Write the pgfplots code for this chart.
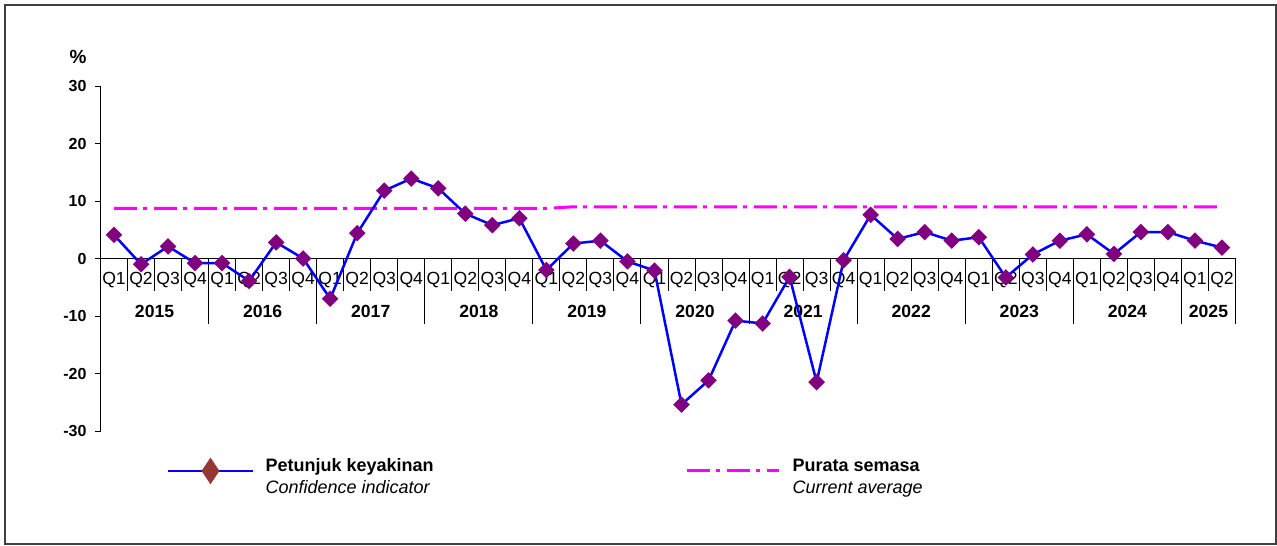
\documentclass[border=0pt]{standalone}
\usepackage{fontspec}
\setmainfont{Liberation Sans}
\usepackage{pgfplots}
\pgfplotsset{compat=1.18}

\definecolor{lineblue}{RGB}{0,0,255}
\definecolor{markpurple}{RGB}{128,0,128}
\definecolor{legbrown}{RGB}{149,55,53}
\definecolor{avgmagenta}{RGB}{255,0,255}

\pgfplotsset{
  legline/.style={legend image code/.code={
    \path (0pt,-12pt) (0pt,7pt);
    \draw[mark repeat=2,mark phase=2,##1] plot coordinates {(0pt,0pt) (21.25pt,0pt) (42.5pt,0pt)};}},
  legline2/.style={legend image code/.code={
    \path (0pt,-12pt) (0pt,7pt);
    \draw[##1] (0pt,0pt) -- (46pt,0pt);}},
}

% Petunjuk keyakinan, 2015Q1 .. 2025Q2
\pgfplotstableread{
x y
0 4.1
1 -1.0
2 2.1
3 -0.8
4 -0.8
5 -3.9
6 2.8
7 0.0
8 -7.0
9 4.4
10 11.8
11 13.9
12 12.2
13 7.8
14 5.8
15 7.0
16 -2.0
17 2.6
18 3.1
19 -0.5
20 -2.1
21 -25.4
22 -21.2
23 -10.8
24 -11.3
25 -3.2
26 -21.5
27 -0.3
28 7.6
29 3.4
30 4.6
31 3.1
32 3.7
33 -3.3
34 0.7
35 3.1
36 4.2
37 0.8
38 4.6
39 4.6
40 3.1
41 1.9
}\confidence

% Purata semasa
\pgfplotstableread{
x y
0 8.7
16 8.7
17 9.0
41 9.0
}\average

\begin{document}
\begin{tikzpicture}
\begin{axis}[
    scale only axis,
    width=567.5pt, height=172.5pt,
    xmin=-0.5, xmax=41.5,
    ymin=-30, ymax=30,
    clip=false,
    axis x line*=middle,
    axis y line*=left,
    axis line style={black, line width=0.5pt},
    xtick={0,...,41},
    xticklabels={Q1,Q2,Q3,Q4,Q1,Q2,Q3,Q4,Q1,Q2,Q3,Q4,Q1,Q2,Q3,Q4,Q1,Q2,Q3,Q4,
                 Q1,Q2,Q3,Q4,Q1,Q2,Q3,Q4,Q1,Q2,Q3,Q4,Q1,Q2,Q3,Q4,Q1,Q2,Q3,Q4,Q1,Q2},
    x tick style={draw=none},
    major x tick style={draw=none},
    xticklabel style={anchor=base, yshift=-12.9pt, inner sep=0pt,
                      font=\fontsize{8.8}{10}\selectfont},
    extra x ticks={1.5,5.5,9.5,13.5,17.5,21.5,25.5,29.5,33.5,37.5,40.5},
    extra x tick labels={2015,2016,2017,2018,2019,2020,2021,2022,2023,2024,2025},
    extra x tick style={xticklabel style={yshift=-16.4pt, font=\bfseries\fontsize{8.8}{10}\selectfont}},
    ytick={-30,-20,-10,0,10,20,30},
    yticklabels={-30,-20,-10,0,10,20,30},
    ytick align=outside,
    major tick length=2.5pt,
    y tick style={black, line width=0.5pt},
    yticklabel style={font=\bfseries\fontsize{8}{10}\selectfont, xshift=-1pt},
    legend columns=2,
    legend cell align=left,
    legend style={draw=none, fill=none, at={(0.0586,-0.0696)}, anchor=north west,
                  column sep=6pt, inner sep=0pt, nodes={inner sep=0pt},
                  font=\fontsize{9}{11}\selectfont},
]

% category table below the zero line
\pgfplotsinvokeforeach{-0.5,0.5,...,41.5}{
  \draw[black, line width=0.5pt] (axis cs:#1,0) -- ++(0pt,-16pt);
}
\pgfplotsinvokeforeach{3.5,7.5,...,39.5,41.5}{
  \draw[black, line width=0.5pt] (axis cs:#1,0) -- ++(0pt,-32.5pt);
}

\addplot[avgmagenta, line width=1.5pt, dash pattern=on 11.5pt off 3pt on 2pt off 3.5pt, forget plot]
  table[x=x, y=y] {\average};

\addplot[lineblue, line width=1.25pt, mark=square*, mark size=2.3pt,
         mark options={rotate=45, fill=markpurple, draw=markpurple, solid}, forget plot]
  table[x=x, y=y] {\confidence};

\addlegendimage{legline, lineblue, line width=0.6pt, mark=square*, mark size=2.9pt,
                mark options={yscale=1.5, rotate=45, fill=legbrown, draw=legbrown}}
\addlegendentry{\makebox[204pt][l]{\begin{tabular}{@{}l@{}}\textbf{Petunjuk keyakinan}\\\textit{Confidence indicator}\end{tabular}}}
\addlegendimage{legline2, avgmagenta, line width=1.5pt, dash pattern=on 11.5pt off 3pt on 2pt off 3.5pt}
\addlegendentry{\begin{tabular}{@{}l@{}}\textbf{Purata semasa}\\\textit{Current average}\end{tabular}}

\node[font=\bfseries\fontsize{9.5}{11}\selectfont] at ([shift={(-11.25pt,14.5pt)}]rel axis cs:0,1) {\%};

% outer frame
\path ([shift={(-50.25pt,-57pt)}]rel axis cs:0,0) rectangle ([shift={(588.25pt,215.5pt)}]rel axis cs:0,0);
\draw[black!75, line width=0.6pt] ([shift={(-47.75pt,-56.5pt)}]rel axis cs:0,0) rectangle ([shift={(587.75pt,213pt)}]rel axis cs:0,0);
\end{axis}
\end{tikzpicture}
\end{document}
